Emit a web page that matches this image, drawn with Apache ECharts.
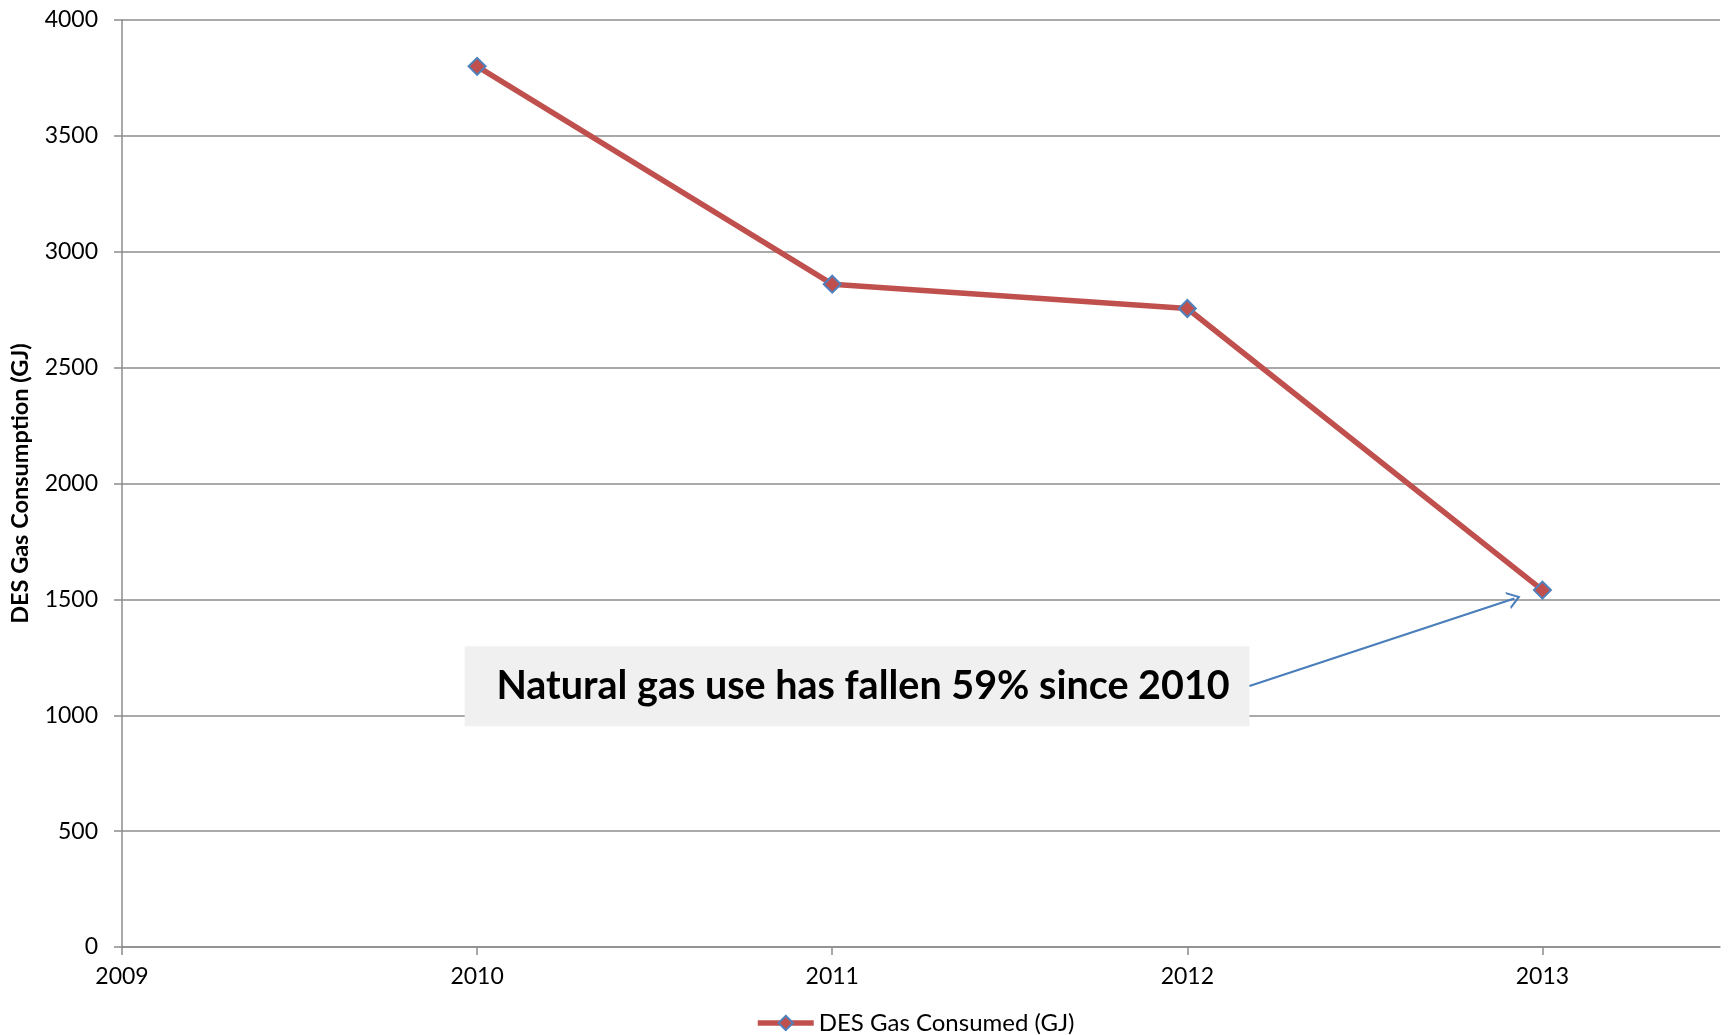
<!DOCTYPE html>
<html>
<head>
<meta charset="utf-8">
<title>DES Gas Consumption</title>
<script src="https://cdn.jsdelivr.net/npm/echarts@6/dist/echarts.min.js"></script>
<style>
  html, body { margin: 0; padding: 0; background: #ffffff; }
  #chart { width: 1729px; height: 1035px; }
</style>
</head>
<body>
<div id="chart"></div>
<script>
// Annual natural gas use of the district energy system
const years = [2010, 2011, 2012, 2013];
const gasConsumed = [3800, 2860, 2755, 1540];
const seriesName = 'DES Gas Consumed (GJ)';
const yearTicks = [2009, 2010, 2011, 2012, 2013];

// Callout text and the data-space corners of its box and pointer
const calloutText = 'Natural gas use has fallen 59% since 2010';
const calloutBox = [[2009.965, 953], [2012.175, 1298]];
const calloutPointer = [[2012.175, 1126], [2012.921, 1504]];

const FONT = 'Lato';
const GRID_GRAY = '#8c8c8c';

const chart = echarts.init(document.getElementById('chart'), null, { renderer: 'canvas' });

const option = {
  animation: false,
  backgroundColor: '#ffffff',
  textStyle: { fontFamily: FONT },
  grid: { left: 122, right: 9, top: 20, bottom: 88, containLabel: false },
  legend: {
    left: 750,
    top: 1006,
    itemWidth: 56,
    itemHeight: 18,
    itemGap: 10,
    lineStyle: { width: 5.5 },
    textStyle: { fontFamily: FONT, fontSize: 24, color: '#000' },
    data: [seriesName]
  },
  xAxis: {
    type: 'value',
    min: 2009,
    max: 2013.5,
    interval: 1,
    axisLine: { show: true, onZero: true, lineStyle: { color: GRID_GRAY, width: 1.5 } },
    axisTick: { show: true, length: 8, inside: false, customValues: yearTicks,
      lineStyle: { color: GRID_GRAY, width: 1.5 } },
    axisLabel: { customValues: yearTicks, margin: 18, fontFamily: FONT, fontSize: 23, color: '#000',
      formatter: v => String(v) },
    splitLine: { show: false }
  },
  yAxis: {
    type: 'value',
    min: 0,
    max: 4000,
    interval: 500,
    name: 'DES Gas Consumption (GJ)',
    nameLocation: 'middle',
    nameGap: 90,
    nameRotate: 90,
    nameTextStyle: { fontFamily: FONT, fontSize: 23.5, fontWeight: 'bold', color: '#000' },
    axisLine: { show: true, lineStyle: { color: GRID_GRAY, width: 1.5 } },
    axisTick: { show: true, length: 8, inside: false, lineStyle: { color: GRID_GRAY, width: 1.5 } },
    axisLabel: { margin: 24, fontFamily: FONT, fontSize: 23, color: '#000',
      formatter: v => String(v) },
    splitLine: { show: true, lineStyle: { color: GRID_GRAY, width: 1.5 } }
  },
  series: [{
    name: seriesName,
    type: 'line',
    data: years.map((y, i) => [y, gasConsumed[i]]),
    symbol: 'diamond',
    symbolSize: 17,
    z: 5,
    lineStyle: { color: '#C0504D', width: 5.5 },
    itemStyle: { color: '#C0504D', borderColor: '#4F81BD', borderWidth: 2 },
    emphasis: { disabled: true },
    markArea: {
      silent: true,
      itemStyle: { color: '#F0F0F0', opacity: 1 },
      label: {
        show: true,
        position: 'inside',
        offset: [6, 0],
        formatter: calloutText,
        fontFamily: FONT,
        fontSize: 39.5,
        fontWeight: 'bold',
        color: '#000'
      },
      data: [[{ coord: calloutBox[0] }, { coord: calloutBox[1] }]]
    },
    markLine: {
      silent: true,
      symbol: ['none', 'path://M0,10 L5,0 L10,10 L8.6,10 L5,2.8 L1.4,10 Z'],
      symbolSize: [18, 13],
      lineStyle: { color: '#4A7EBB', width: 2.2, type: 'solid' },
      label: { show: false },
      data: [[{ coord: calloutPointer[0] }, { coord: calloutPointer[1] }]]
    }
  }]
};

chart.setOption(option);
</script>
</body>
</html>
